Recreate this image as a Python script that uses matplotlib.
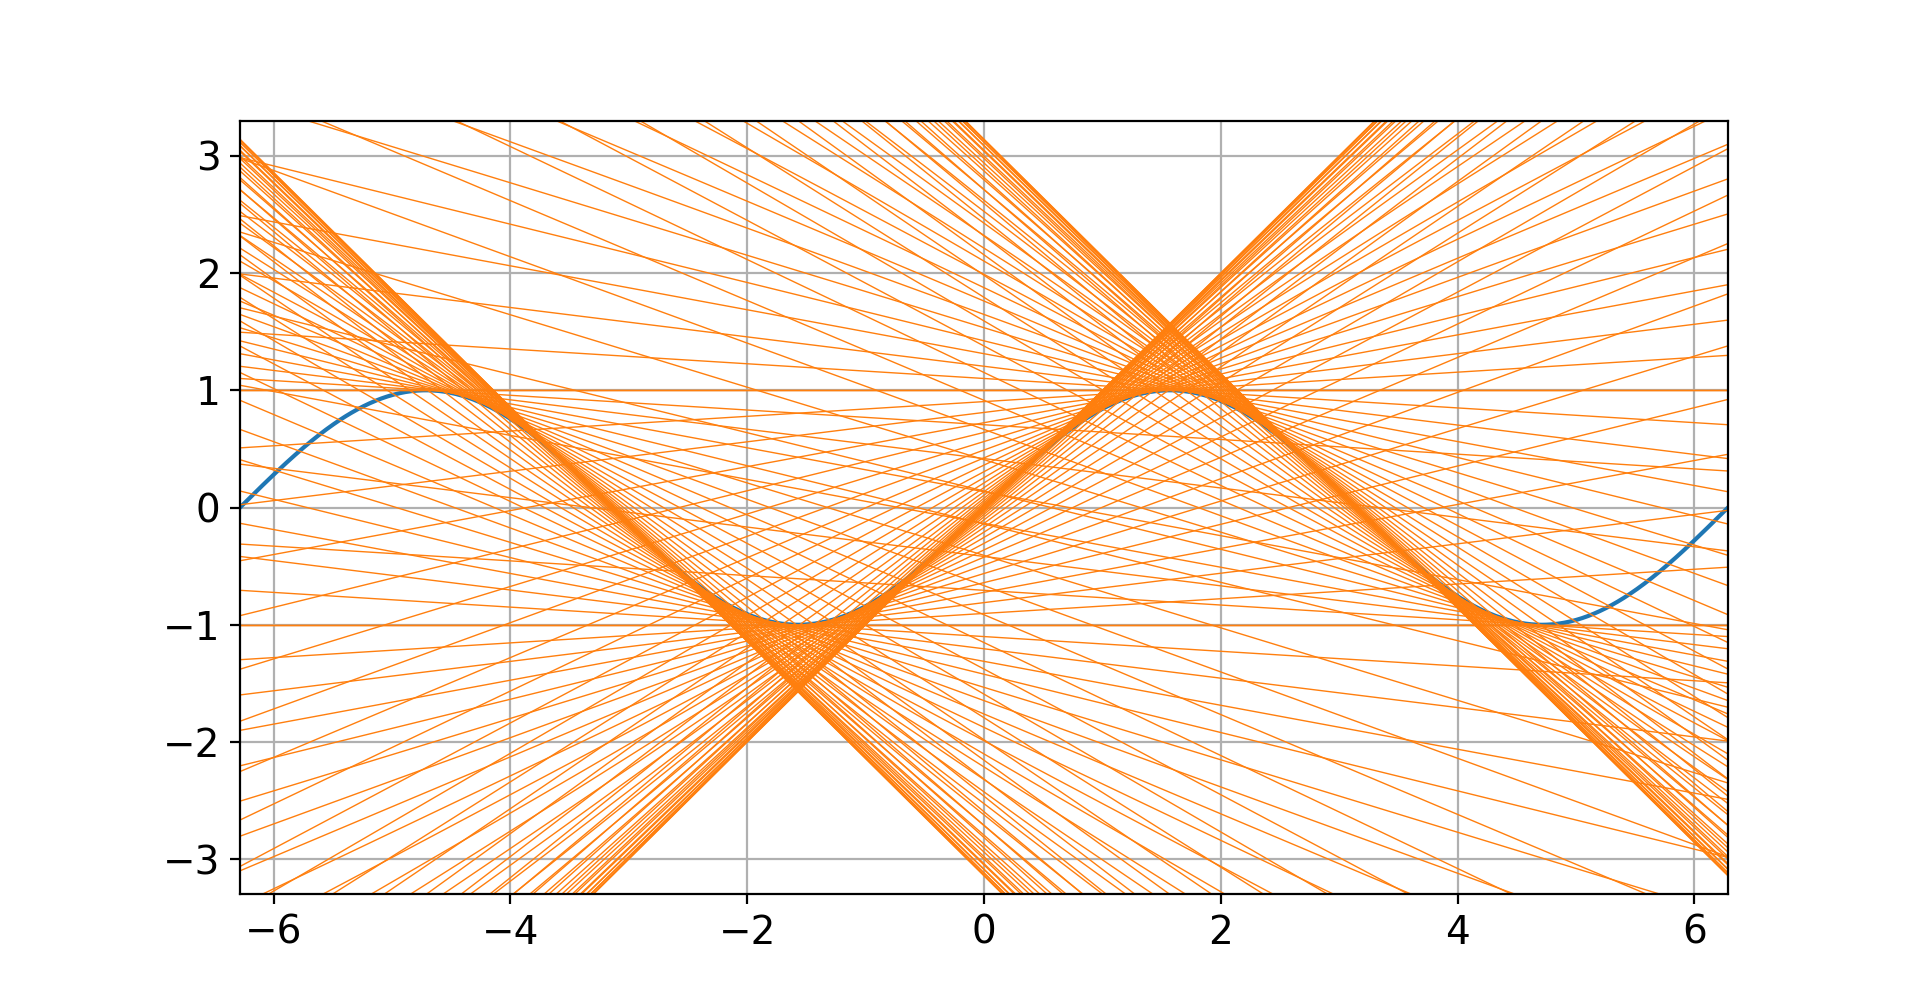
import numpy as np
import matplotlib
matplotlib.use("Agg")
import matplotlib.pyplot as plt

plt.rcParams['font.size'] = 14

# axis window
x_lim = (-2 * np.pi, 2 * np.pi)
y_lim = (-3.3, 3.3)

# curve samples and the points where tangents are drawn (step pi/50)
x_curve = np.linspace(-2 * np.pi, 2 * np.pi, 1000)
x_tangent = np.linspace(-1.5 * np.pi, 1.5 * np.pi, 151)

fig, ax = plt.subplots(figsize=(9.6, 5.025), dpi=200)

ax.plot(x_curve, np.sin(x_curve), color='C0')

# tangent line at each point, drawn across the whole x range
x_line = np.array(x_lim)
for x0 in x_tangent:
    y_line = np.sin(x0) + np.cos(x0) * (x_line - x0)
    ax.plot(x_line, y_line, color='C1', linewidth=0.5)

ax.set_xlim(*x_lim)
ax.set_ylim(*y_lim)
ax.grid(True)

fig.savefig('out.png', dpi=200)
